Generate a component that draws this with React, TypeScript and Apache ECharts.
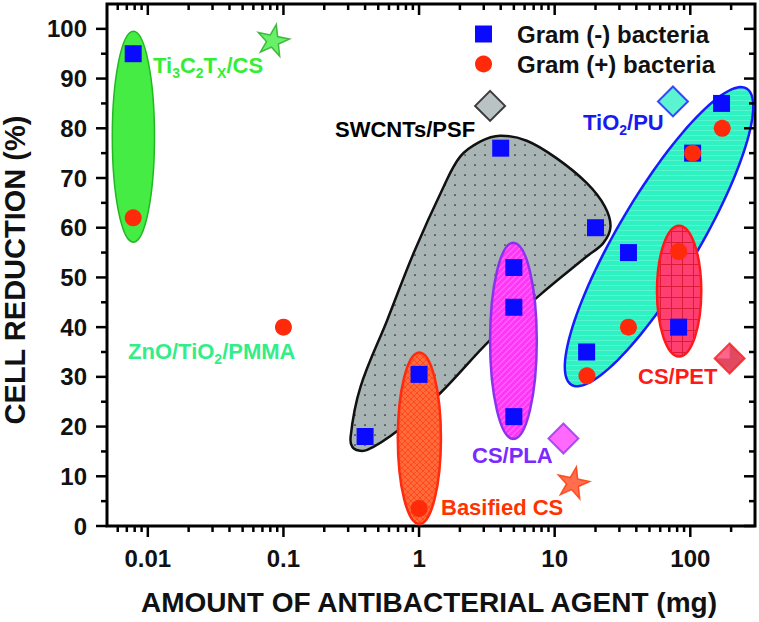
import React, { useEffect, useRef } from 'react';
import * as echarts from 'echarts';

const FONT = '"Liberation Sans", Arial, Helvetica, sans-serif';

// axis ranges and tick values
const X_MIN = 0.005;
const X_MAX = 300;
const Y_MIN = 0;
const Y_MAX = 105;
const xMajorTicks = [0.01, 0.1, 1, 10, 100];
const xMinorMultipliers = [2, 3, 4, 5, 6, 7, 8, 9];
const xDecades = [0.001, 0.01, 0.1, 1, 10, 100];
const yMajorTicks = [0, 10, 20, 30, 40, 50, 60, 70, 80, 90, 100];
const yMinorTicks = [5, 15, 25, 35, 45, 55, 65, 75, 85, 95];

// measured points: [amount (mg), cell reduction (%)]
const gramNegative: [number, number][] = [
  [0.0078, 95], [0.4, 18], [4, 76], [20, 60], [5, 52], [5, 44], [5, 22],
  [1, 30.5], [17.2, 35], [35, 55], [104, 75], [170, 85], [82, 40],
];
const gramPositive: [number, number][] = [
  [0.0078, 62], [0.1, 40], [1, 3.5], [17.3, 30.2], [35, 40], [104, 75], [172, 80], [82, 55.2],
];
const starNames = ['Ti3C2Tx/CS', 'Basified CS'];
const starValues: [number, number][] = [[0.084, 97.9], [13.7, 8.9]];
const diamondNames = ['SWCNTs/PSF', 'TiO2/PU', 'CS/PLA', 'CS/PET'];
const diamondValues: [number, number][] = [[3.34, 84.5], [74.5, 85.4], [11.6, 17.6], [195, 33.7]];

// enclosing regions (data space)
const ellipseNames = ['Ti3C2Tx/CS', 'Basified CS', 'CS/PLA', 'CS/PET'];
const ellipseXRange: [number, number][] = [[0.00547, 0.0112], [0.697, 1.45], [3.34, 7.38], [56.8, 120.5]];
const ellipseYRange: [number, number][] = [[57.1, 99.5], [0.4, 34.9], [17.5, 57.0], [34.1, 60.4]];
const tiltedFrom: [number, number] = [13.3, 28.4];
const tiltedTo: [number, number] = [260, 88.0];
const tiltedWidthRatio = 0.235;
const swcntOutline: [number, number][] = [
  [0.313, 18.0], [0.37, 28.0], [0.582, 41.4], [0.912, 54.9], [1.52, 68.3], [2.01, 74.3],
  [2.82, 77.3], [3.96, 78.5], [6.22, 77.5], [10.3, 74.0], [17.2, 69.0], [23.4, 64.3],
  [25.8, 60.2], [22.8, 56.9], [17.2, 54.2], [7.8, 46.5], [3.34, 37.4], [1.43, 26.7],
  [0.73, 19.6], [0.415, 15.3], [0.33, 15.6],
];

const STAR_PATH =
  'path://M50,0 L61.2,34.5 L97.6,34.5 L68.2,55.9 L79.4,90.5 L50,69.1 L20.6,90.5 L31.8,55.9 L2.4,34.5 L38.8,34.5 Z';

function makePattern(w: number, h: number, bg: string, draw: (ctx: CanvasRenderingContext2D) => void) {
  const c = document.createElement('canvas');
  c.width = w;
  c.height = h;
  const ctx = c.getContext('2d') as CanvasRenderingContext2D;
  ctx.fillStyle = bg;
  ctx.fillRect(0, 0, w, h);
  draw(ctx);
  return { image: c.toDataURL(), repeat: 'repeat', imageWidth: w, imageHeight: h } as any;
}

export default function App() {
  const ref = useRef<HTMLDivElement>(null);

  useEffect(() => {
    if (!ref.current) return;
    const chart = echarts.init(ref.current, undefined, { renderer: 'svg' });

    const dots = makePattern(10, 10, '#a9b4b4', (ctx) => {
      ctx.fillStyle = '#222';
      ctx.beginPath();
      ctx.arc(5, 5, 0.85, 0, Math.PI * 2);
      ctx.fill();
    });
    const stripes = makePattern(5, 5, '#2ff2c2', (ctx) => {
      ctx.fillStyle = '#58f5d0';
      ctx.fillRect(0, 0, 5, 1);
    });
    const grid = makePattern(11, 11, '#ff3f70', (ctx) => {
      ctx.strokeStyle = '#d91c38';
      ctx.lineWidth = 1;
      ctx.beginPath();
      ctx.moveTo(0.5, 0);
      ctx.lineTo(0.5, 11);
      ctx.moveTo(0, 0.5);
      ctx.lineTo(11, 0.5);
      ctx.stroke();
    });
    const diag = makePattern(6, 6, '#ff36f4', (ctx) => {
      ctx.strokeStyle = '#ff70ff';
      ctx.lineWidth = 1.2;
      ctx.beginPath();
      ctx.moveTo(0, 6);
      ctx.lineTo(6, 0);
      ctx.moveTo(-1, 1);
      ctx.lineTo(1, -1);
      ctx.moveTo(5, 7);
      ctx.lineTo(7, 5);
      ctx.stroke();
    });
    const cross = makePattern(6, 6, '#ff6b3b', (ctx) => {
      ctx.strokeStyle = '#ff4a20';
      ctx.lineWidth = 1;
      ctx.beginPath();
      ctx.moveTo(0, 6);
      ctx.lineTo(6, 0);
      ctx.moveTo(0, 0);
      ctx.lineTo(6, 6);
      ctx.stroke();
    });

    const regionStyle: Record<string, any> = {
      'Ti3C2Tx/CS': { fill: '#44ec44', stroke: '#22b822', lineWidth: 1.5 },
      'Basified CS': { fill: cross, stroke: '#ff2a10', lineWidth: 2.5 },
      'CS/PLA': { fill: diag, stroke: '#8a33ee', lineWidth: 2.5 },
      'CS/PET': { fill: grid, stroke: '#ff1a1a', lineWidth: 2.5 },
      'TiO2/PU': { fill: stripes, stroke: '#1a1aff', lineWidth: 2.5 },
      'SWCNTs/PSF': { fill: dots, stroke: '#111', lineWidth: 2.5 },
    };
    const markerStyle: Record<string, any> = {
      'Ti3C2Tx/CS': { color: '#44ec44', borderColor: '#22aa22', borderWidth: 1.5 },
      'Basified CS': { color: cross, borderColor: '#ff3300', borderWidth: 1.5 },
      'SWCNTs/PSF': { color: '#a9b4b4', borderColor: '#111', borderWidth: 2 },
      'TiO2/PU': { color: '#33f0c8', borderColor: '#1a1aff', borderWidth: 2 },
      'CS/PLA': { color: '#ff44ff', borderColor: '#9933ee', borderWidth: 2 },
      'CS/PET': { color: grid, borderColor: '#ff1a1a', borderWidth: 2 },
    };

    const tickLine = (x1: number, y1: number, x2: number, y2: number) => ({
      type: 'line',
      shape: { x1, y1, x2, y2 },
      style: { stroke: '#000', lineWidth: 2.5 },
    });

    const xMinorTicks: number[] = [];
    xDecades.forEach((d) =>
      xMinorMultipliers.forEach((m) => {
        const v = m * d;
        if (v > X_MIN * 1.0001 && v < X_MAX * 0.9999) xMinorTicks.push(v);
      })
    );

    const labelTexts = [
      { t: '{m|Ti}{s|3}{m|C}{s|2}{m|T}{s|X}{m|/CS}', x: 153, y: 65, c: '#33ee33' },
      { t: '{m|SWCNTs/PSF}', x: 335, y: 129, c: '#000000' },
      { t: '{m|TiO}{s|2}{m|/PU}', x: 583, y: 122, c: '#1a1aee' },
      { t: '{m|ZnO/TiO}{s|2}{m|/PMMA}', x: 128, y: 351, c: '#33ee88' },
      { t: '{m|CS/PLA}', x: 472, y: 455, c: '#7a2aff' },
      { t: '{m|Basified CS}', x: 441, y: 507, c: '#ff3300' },
      { t: '{m|CS/PET}', x: 638, y: 376.5, c: '#ff1a1a' },
    ];

    const option: any = {
      animation: false,
      backgroundColor: '#ffffff',
      grid: { left: 107, right: 4, top: 4, bottom: 96, show: true, borderColor: '#000', borderWidth: 3, backgroundColor: 'transparent' },
      legend: {
        orient: 'vertical',
        left: 470,
        top: 17,
        itemWidth: 17,
        itemHeight: 17,
        itemGap: 6,
        data: [
          { name: 'Gram (-) bacteria', icon: 'rect' },
          { name: 'Gram (+) bacteria', icon: 'circle' },
        ],
        textStyle: { fontFamily: FONT, fontWeight: 'bold', fontSize: 24, color: '#111', padding: [0, 0, 0, 20] },
      },
      xAxis: {
        type: 'log',
        logBase: 10,
        min: X_MIN,
        max: X_MAX,
        axisLine: { show: false },
        axisTick: { show: false },
        splitLine: { show: false },
        minorTick: { show: false },
        axisLabel: {
          margin: 20,
          fontFamily: FONT,
          fontWeight: 'bold',
          fontSize: 24,
          color: '#111',
          showMinLabel: false,
          showMaxLabel: false,
          formatter: (v: number) => {
            const l = Math.log10(v);
            if (Math.abs(l - Math.round(l)) > 1e-6) return '';
            const p = Math.round(l);
            return p < 0 ? v.toFixed(-p) : String(Math.round(v));
          },
        },
      },
      yAxis: {
        type: 'value',
        min: Y_MIN,
        max: Y_MAX,
        interval: 10,
        axisLine: { show: false },
        axisTick: { show: false },
        splitLine: { show: false },
        axisLabel: {
          margin: 20,
          fontFamily: FONT,
          fontWeight: 'bold',
          fontSize: 24,
          color: '#111',
          formatter: (v: number) => (v > 100 ? '' : String(v)),
        },
      },
      graphic: [
        {
          type: 'text',
          x: 15,
          y: 270,
          rotation: Math.PI / 2,
          style: { text: 'CELL REDUCTION (%)', fontFamily: FONT, fontWeight: 'bold', fontSize: 29, fill: '#111', align: 'center', verticalAlign: 'middle' },
        },
        {
          type: 'text',
          x: 429,
          y: 602,
          style: { text: 'AMOUNT OF ANTIBACTERIAL AGENT (mg)', fontFamily: FONT, fontWeight: 'bold', fontSize: 28, fill: '#111', align: 'center', verticalAlign: 'middle' },
        },
        ...labelTexts.map((l) => ({
          type: 'text',
          x: l.x,
          y: l.y,
          z: 10,
          style: {
            text: l.t,
            fill: l.c,
            align: 'left',
            verticalAlign: 'middle',
            rich: {
              m: { fontFamily: FONT, fontWeight: 'bold', fontSize: 22, lineHeight: 30, verticalAlign: 'middle', fill: l.c },
              s: { fontFamily: FONT, fontWeight: 'bold', fontSize: 14, lineHeight: 14, verticalAlign: 'bottom', fill: l.c },
            },
          },
        })),
      ],
      series: [
        {
          type: 'custom',
          name: 'SWCNTs/PSF region',
          z: 2,
          silent: true,
          data: [[3.96, 50]],
          renderItem: (_p: any, api: any) => ({
            type: 'polygon',
            shape: { points: swcntOutline.map((pt) => api.coord(pt)), smooth: 0.35 },
            style: regionStyle['SWCNTs/PSF'],
          }),
        },
        {
          type: 'custom',
          name: 'TiO2/PU region',
          z: 2,
          silent: true,
          data: [[60, 58]],
          renderItem: (_p: any, api: any) => {
            const a = api.coord(tiltedFrom);
            const b = api.coord(tiltedTo);
            const cx = (a[0] + b[0]) / 2;
            const cy = (a[1] + b[1]) / 2;
            const dx = b[0] - a[0];
            const dy = b[1] - a[1];
            const len = Math.sqrt(dx * dx + dy * dy);
            const ux = dx / len;
            const uy = dy / len;
            const ra = len / 2;
            const rb = ra * tiltedWidthRatio;
            const pts: number[][] = [];
            for (let i = 0; i < 120; i++) {
              const t = (i / 120) * Math.PI * 2;
              const ca = Math.cos(t) * ra;
              const sb = Math.sin(t) * rb;
              pts.push([cx + ca * ux - sb * uy, cy + ca * uy + sb * ux]);
            }
            return { type: 'polygon', shape: { points: pts }, style: regionStyle['TiO2/PU'] };
          },
        },
        {
          type: 'custom',
          name: 'ellipse regions',
          z: 2,
          silent: true,
          data: ellipseXRange.map((xr, i) => [Math.sqrt(xr[0] * xr[1]), (ellipseYRange[i][0] + ellipseYRange[i][1]) / 2]),
          renderItem: (p: any, api: any) => {
            const i = p.dataIndex;
            const p1 = api.coord([ellipseXRange[i][0], ellipseYRange[i][0]]);
            const p2 = api.coord([ellipseXRange[i][1], ellipseYRange[i][1]]);
            return {
              type: 'ellipse',
              shape: {
                cx: (p1[0] + p2[0]) / 2,
                cy: (p1[1] + p2[1]) / 2,
                rx: Math.abs(p2[0] - p1[0]) / 2,
                ry: Math.abs(p2[1] - p1[1]) / 2,
              },
              style: regionStyle[ellipseNames[i]],
            };
          },
        },
        {
          type: 'scatter',
          name: 'diamonds',
          z: 3,
          symbol: 'diamond',
          symbolSize: 30,
          data: diamondValues.map((v, i) => ({ name: diamondNames[i], value: v, itemStyle: markerStyle[diamondNames[i]] })),
        },
        {
          type: 'scatter',
          name: 'stars',
          z: 3,
          symbol: STAR_PATH,
          symbolSize: 32,
          symbolKeepAspect: true,
          symbolRotate: -12,
          data: starValues.map((v, i) => ({ name: starNames[i], value: v, itemStyle: markerStyle[starNames[i]] })),
        },
        {
          type: 'scatter',
          name: 'Gram (-) bacteria',
          z: 4,
          symbol: 'rect',
          symbolSize: 17,
          itemStyle: { color: '#0a0aff', opacity: 1 },
          data: gramNegative,
        },
        {
          type: 'scatter',
          name: 'Gram (+) bacteria',
          z: 4,
          symbol: 'circle',
          symbolSize: 17,
          itemStyle: { color: '#ff2a0a', opacity: 1 },
          data: gramPositive,
        },
        {
          type: 'custom',
          name: 'ticks',
          z: 6,
          silent: true,
          data: [[1, 50]],
          renderItem: (_p: any, api: any) => {
            const lb = api.coord([X_MIN, Y_MIN]);
            const rt = api.coord([X_MAX, Y_MAX]);
            const xl = lb[0];
            const yb = lb[1];
            const xr = rt[0];
            const yt = rt[1];
            const L = 11;
            const S = 6;
            const children: any[] = [];
            yMajorTicks.forEach((v) => {
              const y = api.coord([1, v])[1];
              children.push(tickLine(xl - L, y, xl, y), tickLine(xr - L, y, xr, y));
            });
            yMinorTicks.forEach((v) => {
              const y = api.coord([1, v])[1];
              children.push(tickLine(xl - S, y, xl, y), tickLine(xr - S, y, xr, y));
            });
            xMajorTicks.forEach((v) => {
              const x = api.coord([v, 50])[0];
              children.push(tickLine(x, yb, x, yb + L), tickLine(x, yt, x, yt + L));
            });
            xMinorTicks.forEach((v) => {
              const x = api.coord([v, 50])[0];
              children.push(tickLine(x, yb, x, yb + S), tickLine(x, yt, x, yt + S));
            });
            return { type: 'group', children };
          },
        },
      ],
    };

    chart.setOption(option);
    return () => chart.dispose();
  }, []);

  return <div ref={ref} style={{ position: 'absolute', left: 0, top: 0, width: 759, height: 622 }} />;
}
